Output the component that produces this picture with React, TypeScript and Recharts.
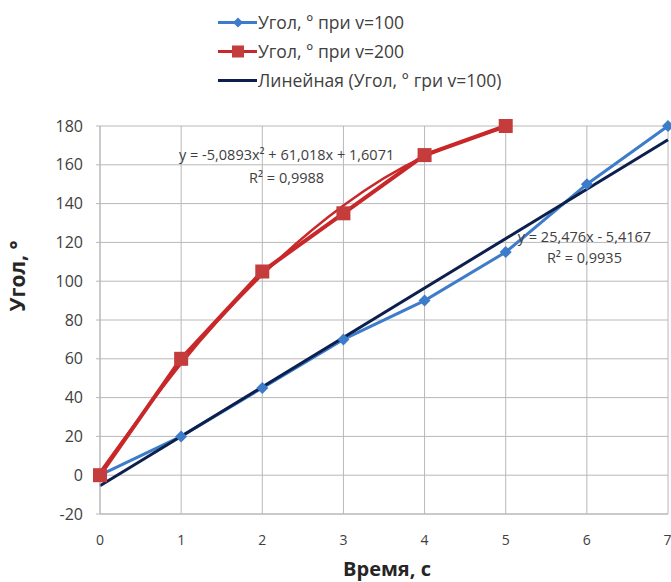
import React from "react";
import {
  CartesianGrid,
  Label,
  Legend,
  Line,
  LineChart,
  ReferenceDot,
  XAxis,
  YAxis,
} from "recharts";

// time, s
const times = [0, 1, 2, 3, 4, 5, 6, 7];
// angle at v=100 and v=200
const angleV100 = [0, 20, 45, 70, 90, 115, 150, 180];
const angleV200 = [0, 60, 105, 135, 165, 180, null, null];
// trend lines
const linearTrend = [-5.4, null, null, null, null, null, null, 172.9];
const polyTrend = [1.6, 57.5, 103.3, 139.0, 164.3, 179.5, null, null];

const xTicks = [0, 1, 2, 3, 4, 5, 6, 7];
const yTicks = [-20, 0, 20, 40, 60, 80, 100, 120, 140, 160, 180];

const seriesNames = [
  "Угол, ° при v=100",
  "Угол, ° при v=200",
  "Линейная (Угол, ° гри v=100)",
];

const data = times.map((t, i) => ({
  t,
  v100: angleV100[i],
  v200: angleV200[i],
  lin: linearTrend[i],
  poly: polyTrend[i],
}));

const BLUE = "#3d7cc9";
const RED = "#c8282a";
const NAVY = "#0d1f4c";
const GRID = "#b8b8b8";
const TEXT = "#404040";
const FONT = "'Open Sans', sans-serif";

const Diamond = (props: any) => {
  const { cx, cy } = props;
  if (cx == null || cy == null) return null;
  const r = 6;
  return (
    <path
      d={`M${cx},${cy - r}L${cx + r},${cy}L${cx},${cy + r}L${cx - r},${cy}Z`}
      fill={BLUE}
    />
  );
};

const Square = (props: any) => {
  const { cx, cy, value } = props;
  if (cx == null || cy == null || value == null) return null;
  const s = 7;
  return <rect x={cx - s} y={cy - s} width={s * 2} height={s * 2} fill="#c43c3c" />;
};

const LegendBox = () => (
  <div style={{ fontFamily: FONT, fontSize: 17.5, color: TEXT, lineHeight: "29px" }}>
    {seriesNames.map((name, i) => (
      <div key={name} style={{ display: "flex", alignItems: "center", height: 29 }}>
        <svg width={40} height={29}>
          <line x1={0} y1={14.5} x2={39} y2={14.5} stroke={[BLUE, RED, NAVY][i]} strokeWidth={3} />
          {i === 0 && <path d="M20,9.5L25,14.5L20,19.5L15,14.5Z" fill={BLUE} />}
          {i === 1 && <rect x={14} y={8.5} width={12} height={12} fill="#c43c3c" />}
        </svg>
        <span style={{ whiteSpace: "nowrap" }}>{name}</span>
      </div>
    ))}
  </div>
);

const eqStyle = { fontFamily: FONT, fontSize: 14.5, fill: TEXT };
const titleStyle = { fontFamily: FONT, fontSize: 20, fontWeight: 700, fill: "#262626" };

export default function App() {
  return (
    <div style={{ position: "absolute", left: 0, top: 0, background: "#fff" }}>
      <LineChart
        width={671}
        height={582}
        data={data}
        margin={{ top: 126, right: 3, left: 0, bottom: 0 }}
      >
        <CartesianGrid stroke={GRID} strokeWidth={1} />
        <XAxis
          dataKey="t"
          type="number"
          domain={[0, 7]}
          ticks={xTicks}
          height={68}
          axisLine={{ stroke: GRID }}
          tickLine={false}
          tickMargin={15}
          tick={{ fontSize: 14, fill: TEXT, fontFamily: FONT }}
        >
          <Label
            content={() => (
              <text x={387} y={576} textAnchor="middle" style={titleStyle}>
                Время, с
              </text>
            )}
          />
        </XAxis>
        <YAxis
          type="number"
          domain={[-20, 180]}
          ticks={yTicks}
          width={100}
          axisLine={{ stroke: GRID }}
          tickLine={{ stroke: GRID }}
          tickSize={4}
          tickMargin={13}
          tick={{ fontSize: 16, fill: TEXT, fontFamily: FONT }}
        >
          <Label
            content={() => (
              <text
                x={25}
                y={276}
                textAnchor="middle"
                transform="rotate(-90 25 276)"
                style={{ ...titleStyle, fontSize: 21 }}
              >
                Угол, °
              </text>
            )}
          />
        </YAxis>
        <Legend
          layout="horizontal"
          verticalAlign="middle"
          align="center"
          content={<LegendBox />}
          wrapperStyle={{ top: 8, left: 218, width: 380, height: 90 }}
        />
        <Line
          dataKey="v100"
          stroke={BLUE}
          strokeWidth={3}
          dot={<Diamond />}
          activeDot={false}
          isAnimationActive={false}
          legendType="none"
        />
        <Line
          dataKey="v200"
          stroke={RED}
          strokeWidth={4}
          dot={<Square />}
          activeDot={false}
          isAnimationActive={false}
          legendType="none"
        />
        <Line
          dataKey="poly"
          type="natural"
          stroke={RED}
          strokeWidth={2.5}
          dot={false}
          activeDot={false}
          isAnimationActive={false}
          legendType="none"
        />
        <Line
          dataKey="lin"
          stroke={NAVY}
          strokeWidth={3}
          dot={false}
          activeDot={false}
          connectNulls
          isAnimationActive={false}
          legendType="none"
        />
        <ReferenceDot
          x={2.3}
          y={165}
          r={0}
          stroke="none"
          label={{ value: "y = -5,0893x² + 61,018x + 1,6071", position: "center", style: eqStyle }}
        />
        <ReferenceDot
          x={2.3}
          y={153.5}
          r={0}
          stroke="none"
          label={{ value: "R² = 0,9988", position: "center", style: eqStyle }}
        />
        <ReferenceDot
          x={5.97}
          y={122.8}
          r={0}
          stroke="none"
          label={{ value: "y = 25,476x - 5,4167", position: "center", style: eqStyle }}
        />
        <ReferenceDot
          x={5.97}
          y={112}
          r={0}
          stroke="none"
          label={{ value: "R² = 0,9935", position: "center", style: eqStyle }}
        />
      </LineChart>
    </div>
  );
}
